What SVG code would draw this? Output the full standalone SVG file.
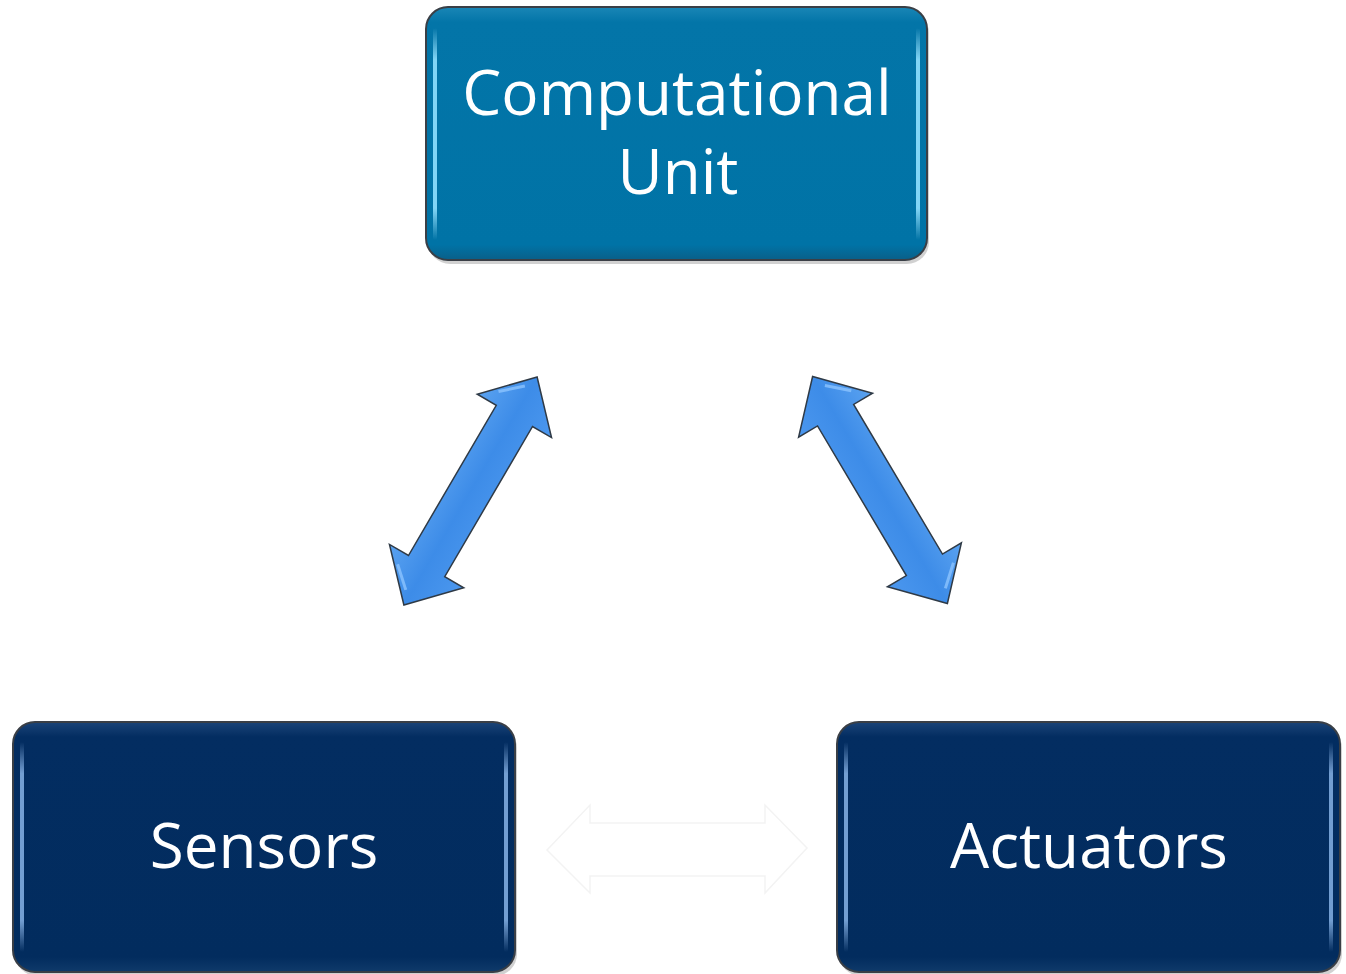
<svg xmlns="http://www.w3.org/2000/svg" width="1346" height="974" viewBox="0 0 1346 974">
  <style>
    .lbl { font-family: "Open Sans", "Noto Sans", sans-serif; font-size: 62px; fill: #ffffff; text-anchor: middle; }
    .box { stroke: #3a3f46; stroke-width: 2; }
    .shadow { fill: #000000; opacity: 0.18; }
    .arrow { fill: url(#arrowGrad); stroke: #2f3a46; stroke-width: 1.5; stroke-linejoin: miter; }
    .faint { fill: #ffffff; stroke: #f3f3f3; stroke-width: 1.5; }
  </style>
  <defs>
    <linearGradient id="topFill" x1="0" y1="0" x2="0" y2="1">
      <stop offset="0" stop-color="#1a86b6"/>
      <stop offset="0.06" stop-color="#0375a8"/>
      <stop offset="0.94" stop-color="#0073a6"/>
      <stop offset="1" stop-color="#0a5f88"/>
    </linearGradient>
    <linearGradient id="botFill" x1="0" y1="0" x2="0" y2="1">
      <stop offset="0" stop-color="#1b4478"/>
      <stop offset="0.06" stop-color="#032d61"/>
      <stop offset="0.94" stop-color="#022c5e"/>
      <stop offset="1" stop-color="#0f3a6a"/>
    </linearGradient>
    <linearGradient id="hlTop" x1="0" y1="0" x2="0" y2="1">
      <stop offset="0" stop-color="#9fe6ff" stop-opacity="0"/>
      <stop offset="0.15" stop-color="#8fe0ff" stop-opacity="0.9"/>
      <stop offset="0.85" stop-color="#8fe0ff" stop-opacity="0.9"/>
      <stop offset="1" stop-color="#9fe6ff" stop-opacity="0"/>
    </linearGradient>
    <linearGradient id="hlBot" x1="0" y1="0" x2="0" y2="1">
      <stop offset="0" stop-color="#8fb8ea" stop-opacity="0"/>
      <stop offset="0.15" stop-color="#86b2e6" stop-opacity="0.85"/>
      <stop offset="0.85" stop-color="#86b2e6" stop-opacity="0.85"/>
      <stop offset="1" stop-color="#8fb8ea" stop-opacity="0"/>
    </linearGradient>
    <linearGradient id="arrowGrad" x1="0" y1="0" x2="0" y2="1">
      <stop offset="0" stop-color="#5aa2f0"/>
      <stop offset="0.5" stop-color="#3d8ce8"/>
      <stop offset="1" stop-color="#4b97ee"/>
    </linearGradient>
  </defs>
  <rect width="1346" height="974" fill="#ffffff"/>

  <g id="connectors">
    <g id="arrow-sensors-cu" transform="translate(470.5 491) rotate(-59.7)">
      <polygon class="arrow" points="132,0 87,-43 87,-21 -87,-21 -87,-43 -132,0 -87,43 -87,21 87,21 87,43"/>
      <line x1="-118" y1="-6" x2="-100" y2="-26" stroke="#8cc4ff" stroke-width="3" opacity="0.8"/>
      <line x1="118" y1="-6" x2="100" y2="-26" stroke="#8cc4ff" stroke-width="3" opacity="0.8"/>
    </g>
    <g id="arrow-actuators-cu" transform="translate(880 490) rotate(59.3)">
      <polygon class="arrow" points="132,0 87,-43 87,-21 -87,-21 -87,-43 -132,0 -87,43 -87,21 87,21 87,43"/>
      <line x1="-118" y1="-6" x2="-100" y2="-26" stroke="#8cc4ff" stroke-width="3" opacity="0.8"/>
      <line x1="118" y1="-6" x2="100" y2="-26" stroke="#8cc4ff" stroke-width="3" opacity="0.8"/>
    </g>
    <g id="arrow-sensors-actuators">
      <polygon class="faint" points="547,850 590,805 590,823 765,823 765,805 807,848 765,893 765,876 590,876 590,893"/>
    </g>
  </g>

  <g id="node-computational-unit">
    <rect class="shadow" x="428" y="11" width="501" height="253" rx="22"/>
    <rect class="box" x="426" y="7" width="501" height="253" rx="22" fill="url(#topFill)"/>
    <rect x="433" y="28" width="4" height="212" rx="2" fill="url(#hlTop)"/>
    <rect x="916" y="28" width="4" height="212" rx="2" fill="url(#hlTop)"/>
    <text class="lbl" x="677" y="115">Computational</text>
    <text class="lbl" x="678" y="194">Unit</text>
  </g>

  <g id="node-sensors">
    <rect class="shadow" x="15" y="726" width="502" height="250" rx="22"/>
    <rect class="box" x="13" y="722" width="502" height="250" rx="22" fill="url(#botFill)"/>
    <rect x="20" y="742" width="4" height="210" rx="2" fill="url(#hlBot)"/>
    <rect x="504" y="742" width="4" height="210" rx="2" fill="url(#hlBot)"/>
    <text class="lbl" x="264" y="868">Sensors</text>
  </g>

  <g id="node-actuators">
    <rect class="shadow" x="839" y="726" width="503" height="250" rx="22"/>
    <rect class="box" x="837" y="722" width="503" height="250" rx="22" fill="url(#botFill)"/>
    <rect x="844" y="742" width="4" height="210" rx="2" fill="url(#hlBot)"/>
    <rect x="1329" y="742" width="4" height="210" rx="2" fill="url(#hlBot)"/>
    <text class="lbl" x="1089" y="868">Actuators</text>
  </g>
</svg>
